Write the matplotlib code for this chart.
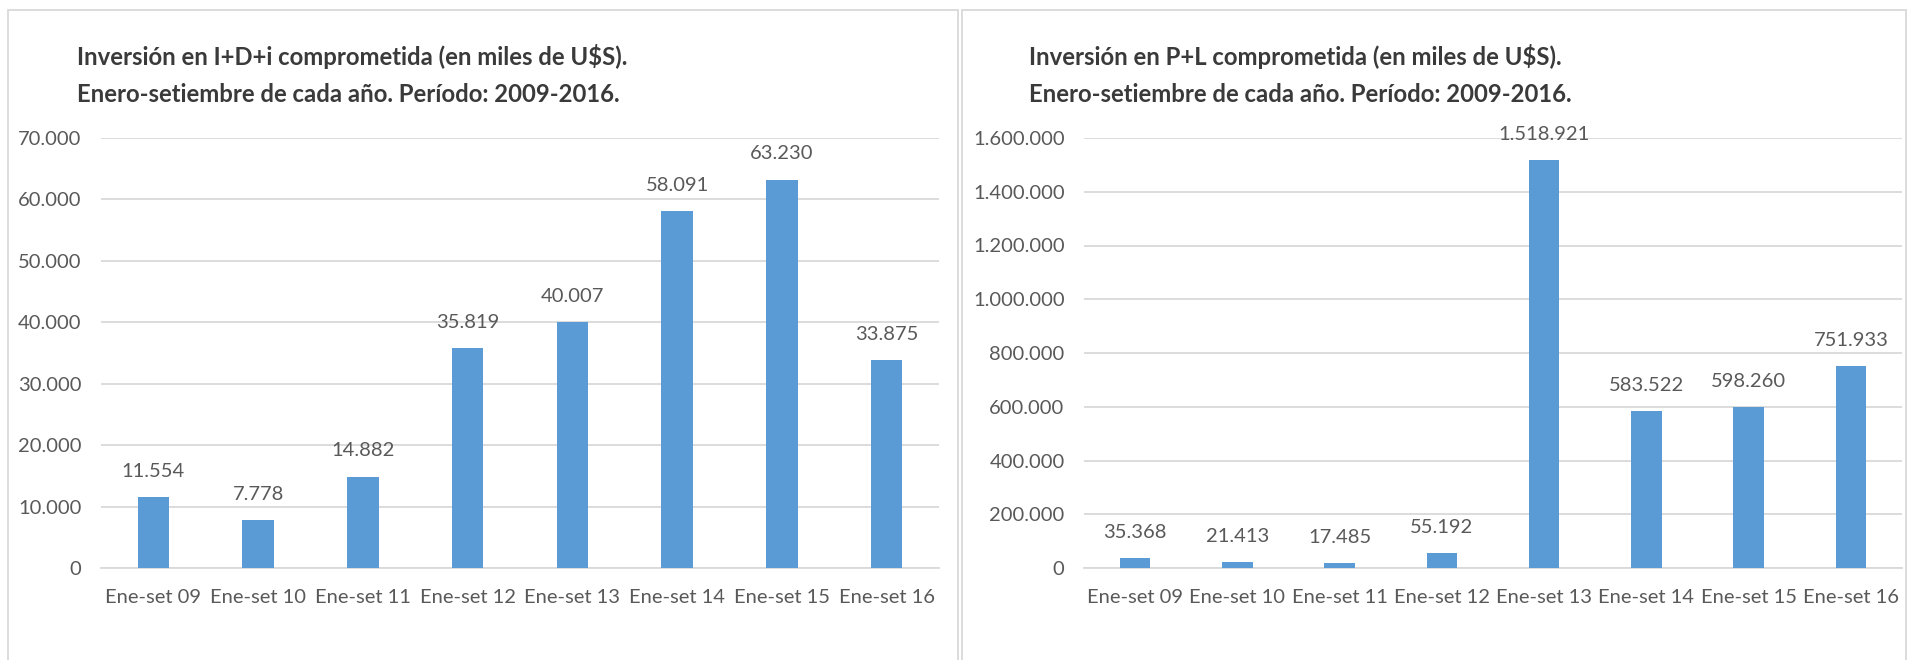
import matplotlib
matplotlib.use('Agg')
import matplotlib.pyplot as plt
from matplotlib.patches import Rectangle
from matplotlib.ticker import FuncFormatter, MultipleLocator

# data
periodos = ['Ene-set 09', 'Ene-set 10', 'Ene-set 11', 'Ene-set 12',
            'Ene-set 13', 'Ene-set 14', 'Ene-set 15', 'Ene-set 16']
idi_valores = [11554, 7778, 14882, 35819, 40007, 58091, 63230, 33875]
pl_valores = [35368, 21413, 17485, 55192, 1518921, 583522, 598260, 751933]

titulo_idi = 'Inversión en I+D+i comprometida (en miles de U$S).'
titulo_pl = 'Inversión en P+L comprometida (en miles de U$S).'
subtitulo = 'Enero-setiembre de cada año. Período: 2009-2016.'

plt.rcParams['font.family'] = ['Lato', 'DejaVu Sans']

BAR_COLOR = '#5B9BD5'
GRID_COLOR = '#D9D9D9'
TEXT_COLOR = '#595959'
TITLE_COLOR = '#3A3A3A'

W, H = 1910, 660


#puntos como separador de miles
def miles(v, pos=None):
    return '{:,}'.format(int(v)).replace(',', '.')


def dibujar(ax, valores, ymax, paso):
    x = list(range(len(periodos)))
    ax.bar(x, valores, width=0.3, color=BAR_COLOR, zorder=3)
    for xi, v in zip(x, valores):
        ax.annotate(miles(v), (xi, v), xytext=(0, 18.5), textcoords='offset points',
                    ha='center', va='center', fontsize=14.5, color=TEXT_COLOR)
    ax.set_xlim(-0.5, len(periodos) - 0.5)
    ax.set_ylim(0, ymax)
    ax.yaxis.set_major_locator(MultipleLocator(paso))
    ax.yaxis.set_major_formatter(FuncFormatter(miles))
    ax.set_xticks(x)
    ax.set_xticklabels(periodos)
    ax.grid(axis='y', color=GRID_COLOR, linewidth=1.3, zorder=0)
    for s in ['top', 'right', 'left']:
        ax.spines[s].set_visible(False)
    ax.spines['bottom'].set_color(GRID_COLOR)
    ax.spines['bottom'].set_linewidth(1.3)
    ax.tick_params(axis='y', length=0, pad=14, labelsize=14.5, labelcolor=TEXT_COLOR)
    ax.tick_params(axis='x', length=0, pad=15, labelsize=14.5, labelcolor=TEXT_COLOR)


fig = plt.figure(figsize=(W / 100, H / 100), dpi=100)

# marcos de cada grafico
fig.add_artist(Rectangle((8 / W, -0.1), 950 / W, 1.1 - 10 / H, transform=fig.transFigure,
                         fill=False, edgecolor=GRID_COLOR, linewidth=1.3))
fig.add_artist(Rectangle((962 / W, -0.1), 944 / W, 1.1 - 10 / H, transform=fig.transFigure,
                         fill=False, edgecolor=GRID_COLOR, linewidth=1.3))

ax1 = fig.add_axes([101 / W, 1 - 568 / H, 838 / W, 430 / H])
dibujar(ax1, idi_valores, 70000, 10000)

ax2 = fig.add_axes([1084 / W, 1 - 568 / H, 818 / W, 430 / H])
dibujar(ax2, pl_valores, 1600000, 200000)

for x0, t in [(77, titulo_idi), (1029, titulo_pl)]:
    fig.text(x0 / W, 1 - 65 / H, t, fontsize=17.2, fontweight='bold', color=TITLE_COLOR, va='baseline')
    fig.text(x0 / W, 1 - 102 / H, subtitulo, fontsize=17.2, fontweight='bold', color=TITLE_COLOR, va='baseline')

fig.savefig('out.png', dpi=100)
